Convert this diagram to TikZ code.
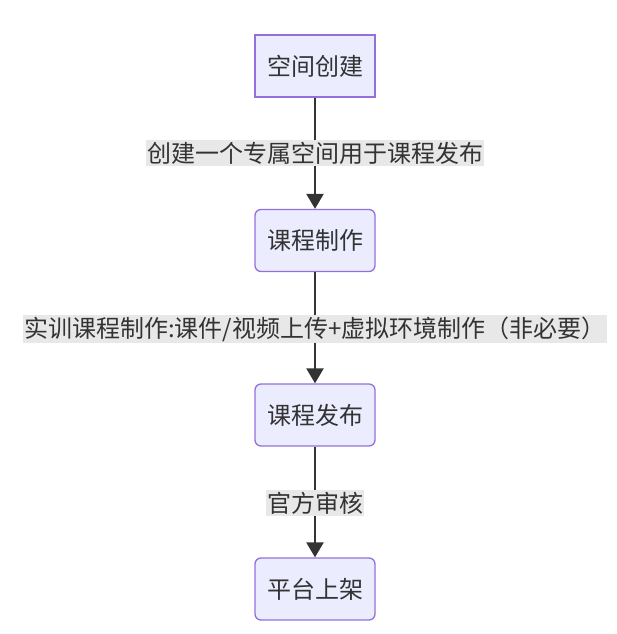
\documentclass[tikz,border=0pt]{standalone}
\usepackage{fontspec}
\newfontfamily\cjk{Noto Sans CJK SC}
\usetikzlibrary{arrows.meta}
\definecolor{nodefill}{HTML}{ECECFF}
\definecolor{nodeborder}{HTML}{9370DB}
\definecolor{txt}{HTML}{333333}
\definecolor{lblbg}{HTML}{E8E8E8}
\tikzset{
  box/.style={draw=nodeborder, fill=nodefill, line width=1.3pt, minimum width=120pt, minimum height=62pt, inner sep=0pt, text=txt, font=\cjk\fontsize{24}{28}\selectfont},
  roundbox/.style={box, rounded corners=6pt},
  lbl/.style={fill=lblbg, inner xsep=1pt, inner ysep=2pt, text=txt, font=\cjk\fontsize{24}{28}\selectfont},
  conn/.style={draw=txt, line width=2.4pt, -{Triangle[length=15pt,width=17pt]}}
}
\begin{document}
\begin{tikzpicture}[x=1pt,y=-1pt]
\useasboundingbox (0,0) rectangle (616,634);
\node[box] (a) at (315,66) {空间创建};
\node[roundbox] (b) at (315,240.5) {课程制作};
\node[roundbox] (c) at (315,415) {课程发布};
\node[roundbox] (d) at (315,589) {平台上架};
\draw[conn] (a) -- (b);
\draw[conn] (b) -- (c);
\draw[conn] (c) -- (d);
\node[lbl] (l1) at (315,153) {创建一个专属空间用于课程发布};
\node[lbl] (l2) at (315,329) {实训课程制作:课件/视频上传+虚拟环境制作（非必要）};
\node[lbl] (l3) at (315,503) {官方审核};
\end{tikzpicture}
\end{document}
